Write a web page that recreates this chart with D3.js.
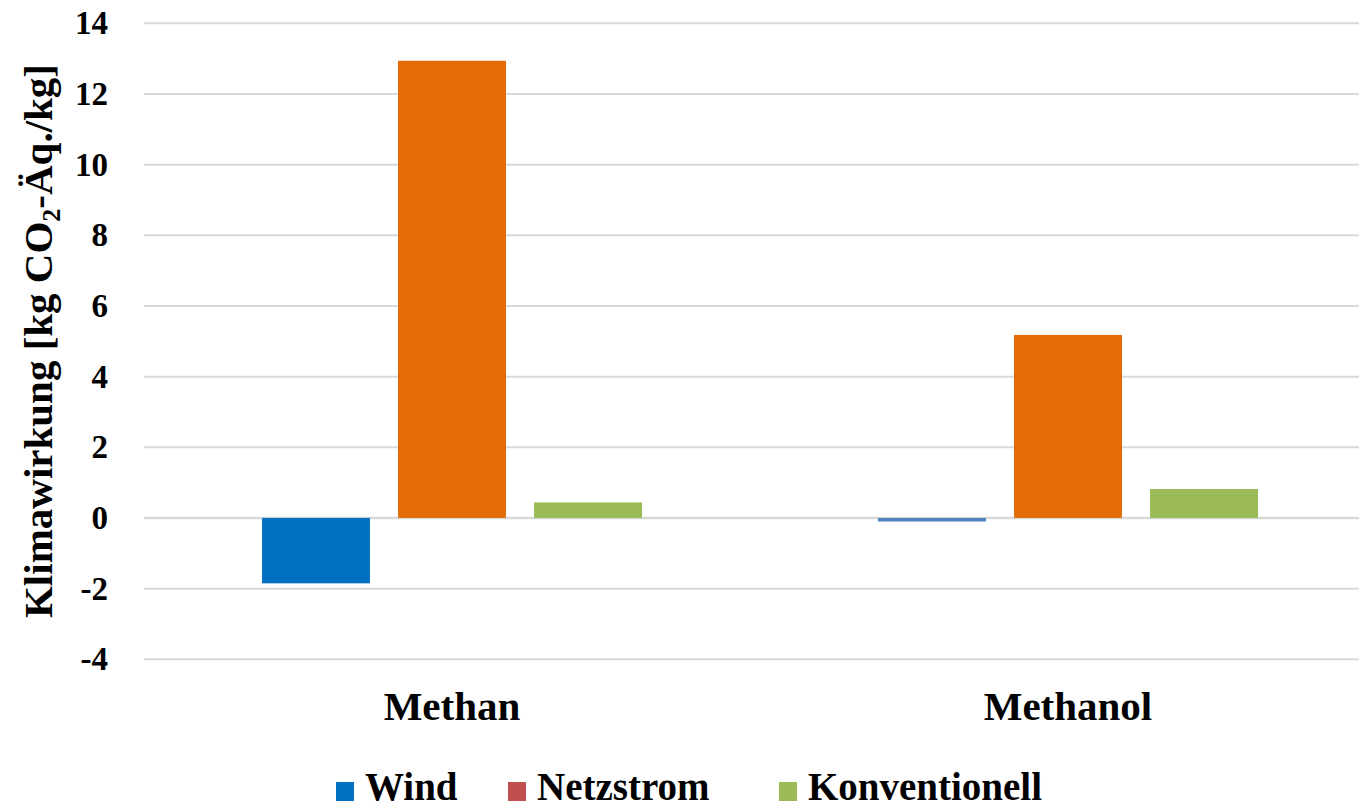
<!DOCTYPE html>
<html>
<head>
<meta charset="utf-8">
<script src="https://cdn.jsdelivr.net/npm/d3@7"></script>
<style>
  html, body { margin: 0; padding: 0; background: #fff; }
  svg { display: block; }
  text { font-family: "Liberation Serif", "Times New Roman", Tinos, "DejaVu Serif", "Noto Serif", serif; font-weight: bold; fill: #000; }
</style>
</head>
<body>
<svg id="chart" width="1359" height="807"></svg>
<script>
// Climate impact per kg of product, by power source
const categories = ["Methan", "Methanol"];
const seriesNames = ["Wind", "Netzstrom", "Konventionell"];
const windValues = [-1.85, -0.1];
const netzstromValues = [12.94, 5.18];
const konventionellValues = [0.44, 0.82];
const yTicks = [-4, -2, 0, 2, 4, 6, 8, 10, 12, 14];

const seriesValues = [windValues, netzstromValues, konventionellValues];
const barColors = ["#0070C0", "#E36C09", "#9BBB59"];
const legendColors = ["#0070C0", "#C0504D", "#9BBB59"];
// the small Methanol/Wind bar is drawn in a lighter blue
const pointColor = (si, ci) => (si === 0 && ci === 1) ? "#4F81BD" : barColors[si];

const FONT = '"Liberation Serif", "Times New Roman", Tinos, "DejaVu Serif", "Noto Serif", serif';

const svg = d3.select("#chart");

const plot = { left: 144, right: 1376, top: 23.3, bottom: 659.3 };

const y = d3.scaleLinear().domain([-4, 14]).range([plot.bottom, plot.top]);

const x0 = d3.scaleBand()
  .domain(categories)
  .range([plot.left, plot.right])
  .paddingInner(0.383)
  .paddingOuter(0.1915);

const x1 = d3.scaleBand()
  .domain(seriesNames)
  .range([0, x0.bandwidth()])
  .paddingInner(0.206)
  .paddingOuter(0);

// horizontal gridlines
svg.append("g")
  .selectAll("line")
  .data(yTicks)
  .join("line")
  .attr("x1", plot.left)
  .attr("x2", plot.right)
  .attr("y1", d => y(d))
  .attr("y2", d => y(d))
  .attr("stroke", "#d9d9d9")
  .attr("stroke-width", d => d === 0 ? 2.5 : 2);

// y axis labels (plain hyphen for negatives)
const yAxis = d3.axisLeft(y).tickValues(yTicks).tickSize(0).tickPadding(36).tickFormat(d => String(d));
const yg = svg.append("g").attr("transform", `translate(${plot.left},0)`).call(yAxis);
yg.select(".domain").remove();
yg.attr("font-family", null).attr("font-size", null);
yg.selectAll("text")
  .style("font-family", FONT)
  .style("font-weight", "bold")
  .style("font-size", "33px")
  .attr("fill", "#000");

// bars
const rows = [];
categories.forEach((c, ci) => {
  seriesNames.forEach((s, si) => {
    rows.push({ cat: c, ci, series: s, si, value: seriesValues[si][ci] });
  });
});

svg.append("g")
  .selectAll("rect")
  .data(rows)
  .join("rect")
  .attr("x", d => x0(d.cat) + x1(d.series))
  .attr("width", x1.bandwidth())
  .attr("y", d => y(Math.max(0, d.value)))
  .attr("height", d => Math.abs(y(d.value) - y(0)))
  .attr("fill", d => pointColor(d.si, d.ci));

// category labels
svg.append("g")
  .selectAll("text")
  .data(categories)
  .join("text")
  .attr("x", d => x0(d) + x0.bandwidth() / 2)
  .attr("y", 720)
  .attr("text-anchor", "middle")
  .style("font-family", FONT)
  .style("font-size", "41px")
  .text(d => d);

// y axis title with subscript
const title = svg.append("text")
  .attr("transform", "translate(52,341) rotate(-90)")
  .attr("text-anchor", "middle")
  .style("font-family", FONT)
  .style("font-size", "41px");
title.append("tspan").text("Klimawirkung [kg CO");
title.append("tspan").attr("dy", 8).style("font-size", "26px").text("2");
title.append("tspan").attr("dy", -8).text("-Äq./kg]");

// legend, one swatch + label per series
const legendX = [336, 508, 779];
const legend = svg.append("g");
seriesNames.forEach((name, i) => {
  legend.append("rect")
    .attr("x", legendX[i])
    .attr("y", 782)
    .attr("width", 18)
    .attr("height", 19)
    .attr("fill", legendColors[i]);
  legend.append("text")
    .attr("x", legendX[i] + 29)
    .attr("y", 800)
    .style("font-family", FONT)
    .style("font-size", "39px")
    .text(name);
});
</script>
</body>
</html>
